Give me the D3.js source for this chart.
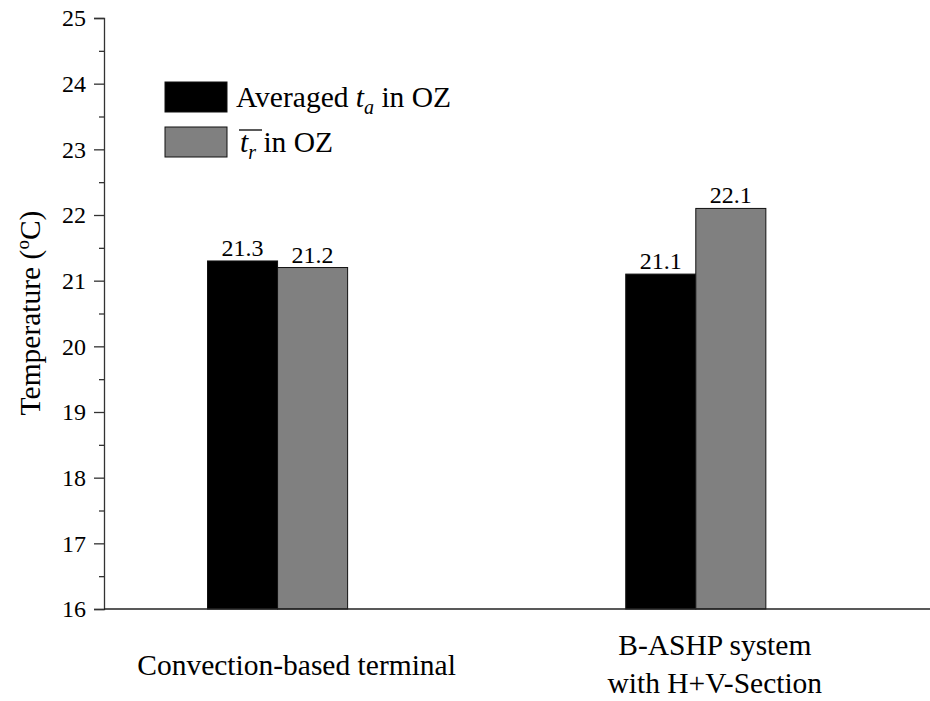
<!DOCTYPE html>
<html>
<head>
<meta charset="utf-8">
<script src="https://cdn.jsdelivr.net/npm/d3@7"></script>
</head>
<body style="margin:0">
<script>
const categories = [['Convection-based terminal'], ['B-ASHP system', 'with H+V-Section']],
	catPos = [1, 2],
	avgTa = [21.3, 21.1],
	meanTr = [21.2, 22.1],
	yTicks = [16, 17, 18, 19, 20, 21, 22, 23, 24, 25],
	colors = ['#000000', '#808080'],
	fontStack = '"Liberation Serif", "Times New Roman", Tinos, serif',
	width = 930,
	height = 701,
	margin = {top: 18, right: 0, bottom: 92, left: 104};

const svg = d3.select('body')
	.append('svg')
	.attr('width', width)
	.attr('height', height);

// scales
let y = d3.scaleLinear()
	.domain([16, 25])
	.range([height - margin.bottom, margin.top]);

let x = d3.scaleLinear()
	.domain([0.585, 2.56])
	.range([margin.left, width - margin.right]);

const barW = 0.1675;

// bars + value labels
const series = [avgTa, meanTr];
series.forEach(function(vals, s) {
	svg.append('g')
		.selectAll('rect')
		.data(vals)
		.enter()
		.append('rect')
			.attr('x', (d, i) => x(catPos[i] + (s - 1) * barW))
			.attr('y', d => y(d))
			.attr('width', (d, i) => x(catPos[i] + barW) - x(catPos[i]))
			.attr('height', d => y(16) - y(d))
			.attr('fill', colors[s])
			.attr('stroke', '#111')
			.attr('stroke-width', 1);

	svg.append('g')
		.selectAll('text')
		.data(vals)
		.enter()
		.append('text')
			.attr('x', (d, i) => x(catPos[i] + (s - 0.5) * barW))
			.attr('y', d => y(d) - 5)
			.attr('text-anchor', 'middle')
			.attr('font-size', 24)
			.text(d => d.toFixed(1));
});

// y axis
let yAxis = d3.axisLeft(y).tickValues(yTicks).tickFormat(d3.format('d')).tickSize(10).tickPadding(8);
let yg = svg.append('g')
	.attr('transform', `translate(${margin.left},0)`)
	.call(yAxis)
	.attr('font-size', 24);
yg.selectAll('text').attr('fill', '#000');
yg.selectAll('line, path').attr('stroke', '#333').attr('stroke-width', 1.3);

// minor ticks
let yMinor = d3.axisLeft(y).tickValues(yTicks.slice(1).map(d => d - 0.5)).tickFormat('').tickSize(5);
let ym = svg.append('g')
	.attr('transform', `translate(${margin.left},0)`)
	.call(yMinor);
ym.select('path').remove();
ym.selectAll('line').attr('stroke', '#333').attr('stroke-width', 1.3);

// x axis line
svg.append('line')
	.attr('x1', x.range()[0]).attr('x2', x.range()[1])
	.attr('y1', y(16)).attr('y2', y(16))
	.attr('stroke', '#222').attr('stroke-width', 1.5);

// category labels
categories.forEach(function(lines, i) {
	let t = svg.append('text')
		.attr('text-anchor', 'middle')
		.attr('font-size', 29.5);
	let y0 = lines.length === 1 ? 675 : 655;
	lines.forEach(function(l, j) {
		t.append('tspan')
			.attr('x', x(catPos[i]) + 19)
			.attr('y', y0 + j * 38)
			.text(l);
	});
});

// y axis title
let yt = svg.append('text')
	.attr('transform', 'translate(40,313) rotate(-90)')
	.attr('text-anchor', 'middle')
	.attr('font-size', 29.5);
yt.append('tspan').text('Temperature (');
yt.append('tspan').attr('dy', -11).attr('font-size', 19).text('o');
yt.append('tspan').attr('dy', 11).text('C)');

// legend
const legend = svg.append('g');
legend.append('rect').attr('x', 165).attr('y', 82).attr('width', 62).attr('height', 30)
	.attr('fill', colors[0]).attr('stroke', '#111');
legend.append('rect').attr('x', 165).attr('y', 127).attr('width', 62).attr('height', 30)
	.attr('fill', colors[1]).attr('stroke', '#111');

let l1 = legend.append('text').attr('x', 236).attr('y', 107).attr('font-size', 29.5);
l1.append('tspan').text('Averaged ');
l1.append('tspan').attr('font-style', 'italic').text('t');
l1.append('tspan').attr('font-style', 'italic').attr('font-size', 20).attr('dy', 7).text('a');
l1.append('tspan').attr('dy', -7).text(' in OZ');

let l2 = legend.append('text').attr('x', 240).attr('y', 152).attr('font-size', 29.5);
l2.append('tspan').attr('font-style', 'italic').text('t');
l2.append('tspan').attr('font-style', 'italic').attr('font-size', 20).attr('dy', 7).text('r');
l2.append('tspan').attr('dy', -7).text(' in OZ');

// overline over t_r (mean radiant temperature symbol)
legend.append('line')
	.attr('x1', 239).attr('x2', 262)
	.attr('y1', 130).attr('y2', 130)
	.attr('stroke', '#000').attr('stroke-width', 1.3);

// serif everywhere, forced inline
svg.selectAll('text, tspan').attr('font-family', 'Liberation Serif')
	.style('font-family', fontStack, 'important');
svg.selectAll('g').attr('font-family', 'Liberation Serif');
</script>
</body>
</html>
